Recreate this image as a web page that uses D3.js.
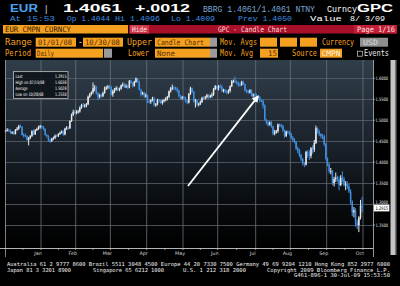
<!DOCTYPE html>
<html>
<head>
<meta charset="utf-8">
<script src="https://cdn.jsdelivr.net/npm/d3@7"></script>
<style>
html, body { margin: 0; padding: 0; background: #000; }
svg { display: block; }
text { font-family: "DejaVu Sans Mono", "Liberation Mono", monospace; }
</style>
</head>
<body>
<script>
var width = 400, height = 286;

// EUR/USD daily candles, 02 Jan 2008 - 30 Oct 2008 (CMPN), one line per month
var months = ["Jan", "Feb", "Mar", "Apr", "May", "Jun", "Jul", "Aug", "Sep", "Oct"];
var monthDays = [22, 21, 21, 22, 22, 21, 23, 21, 22, 22];
var firstOpen = 1.4720;

var closes = [
  1.4760, 1.4770, 1.4750, 1.4700, 1.4710, 1.4670, 1.4770, 1.4800, 1.4860, 1.4840, 1.4650, 1.4640, 1.4620, 1.4530, 1.4580, 1.4630, 1.4740, 1.4660, 1.4770, 1.4790, 1.4840, 1.4860,
  1.4830, 1.4790, 1.4650, 1.4620, 1.4520, 1.4500, 1.4560, 1.4580, 1.4630, 1.4620, 1.4670, 1.4700, 1.4730, 1.4660, 1.4800, 1.4820, 1.4810, 1.4980, 1.5130, 1.5200, 1.5180,
  1.5200, 1.5210, 1.5300, 1.5360, 1.5350, 1.5350, 1.5380, 1.5560, 1.5620, 1.5670, 1.5760, 1.5780, 1.5640, 1.5560, 1.5600, 1.5580, 1.5650, 1.5750, 1.5780, 1.5800, 1.5790,
  1.5620, 1.5700, 1.5730, 1.5770, 1.5730, 1.5750, 1.5830, 1.5850, 1.5800, 1.5810, 1.5780, 1.5940, 1.5900, 1.5820, 1.5920, 1.5990, 1.5920, 1.5730, 1.5620, 1.5660, 1.5580, 1.5590,
  1.5450, 1.5440, 1.5480, 1.5520, 1.5360, 1.5380, 1.5480, 1.5460, 1.5410, 1.5470, 1.5480, 1.5510, 1.5560, 1.5690, 1.5760, 1.5780, 1.5770, 1.5750, 1.5700, 1.5580, 1.5530, 1.5550,
  1.5530, 1.5460, 1.5420, 1.5630, 1.5760, 1.5680, 1.5450, 1.5480, 1.5370, 1.5390, 1.5440, 1.5530, 1.5520, 1.5550, 1.5600, 1.5550, 1.5590, 1.5610, 1.5740, 1.5810, 1.5760,
  1.5810, 1.5800, 1.5700, 1.5730, 1.5690, 1.5660, 1.5700, 1.5810, 1.5930, 1.5940, 1.5920, 1.5890, 1.5850, 1.5840, 1.5920, 1.5860, 1.5710, 1.5700, 1.5660, 1.5710, 1.5590, 1.5610, 1.5600,
  1.5560, 1.5540, 1.5470, 1.5460, 1.5350, 1.5010, 1.4950, 1.4890, 1.4950, 1.4850, 1.4680, 1.4720, 1.4740, 1.4900, 1.4890, 1.4860, 1.4760, 1.4620, 1.4730, 1.4710, 1.4680,
  1.4580, 1.4530, 1.4480, 1.4320, 1.4270, 1.4170, 1.4070, 1.3970, 1.3940, 1.4240, 1.4210, 1.4150, 1.4330, 1.4300, 1.4460, 1.4810, 1.4720, 1.4670, 1.4620, 1.4610, 1.4430, 1.4090,
  1.3950, 1.3780, 1.3790, 1.3500, 1.3600, 1.3630, 1.3580, 1.3450, 1.3630, 1.3600, 1.3450, 1.3470, 1.3420, 1.3300, 1.3050, 1.2800, 1.2850, 1.2550, 1.2500, 1.2680, 1.2960, 1.2915
];

var highs = [
  1.478, 1.481, 1.480, 1.478, 1.474, 1.474, 1.479, 1.484, 1.489, 1.490, 1.486, 1.469, 1.468, 1.464, 1.460, 1.464, 1.476, 1.478, 1.478, 1.482, 1.487, 1.489,
  1.488, 1.486, 1.481, 1.467, 1.464, 1.456, 1.458, 1.461, 1.466, 1.466, 1.469, 1.473, 1.476, 1.476, 1.482, 1.486, 1.485, 1.500, 1.516, 1.525, 1.525,
  1.524, 1.525, 1.533, 1.539, 1.541, 1.539, 1.541, 1.559, 1.565, 1.569, 1.590, 1.584, 1.582, 1.567, 1.563, 1.563, 1.568, 1.580, 1.582, 1.584, 1.584,
  1.582, 1.573, 1.577, 1.581, 1.580, 1.578, 1.585, 1.590, 1.589, 1.586, 1.584, 1.596, 1.596, 1.591, 1.594, 1.602, 1.601, 1.594, 1.575, 1.568, 1.568, 1.564,
  1.561, 1.549, 1.550, 1.556, 1.556, 1.541, 1.551, 1.551, 1.550, 1.549, 1.551, 1.555, 1.558, 1.571, 1.579, 1.585, 1.581, 1.580, 1.579, 1.573, 1.560, 1.558,
  1.558, 1.556, 1.549, 1.565, 1.580, 1.578, 1.570, 1.551, 1.550, 1.542, 1.547, 1.556, 1.557, 1.558, 1.563, 1.562, 1.561, 1.566, 1.577, 1.584, 1.583,
  1.584, 1.586, 1.584, 1.575, 1.574, 1.572, 1.574, 1.583, 1.596, 1.597, 1.604, 1.595, 1.592, 1.590, 1.594, 1.594, 1.588, 1.574, 1.572, 1.574, 1.574, 1.564, 1.565,
  1.563, 1.559, 1.558, 1.550, 1.549, 1.538, 1.503, 1.499, 1.497, 1.498, 1.487, 1.477, 1.477, 1.492, 1.492, 1.491, 1.489, 1.478, 1.475, 1.476, 1.474,
  1.470, 1.462, 1.457, 1.450, 1.437, 1.432, 1.420, 1.410, 1.400, 1.427, 1.429, 1.428, 1.436, 1.440, 1.453, 1.487, 1.483, 1.477, 1.469, 1.467, 1.465, 1.446,
  1.411, 1.398, 1.386, 1.381, 1.365, 1.375, 1.368, 1.366, 1.369, 1.378, 1.365, 1.355, 1.354, 1.348, 1.335, 1.309, 1.293, 1.290, 1.263, 1.271, 1.310, 1.317
];

var lows = [
  1.470, 1.473, 1.472, 1.468, 1.467, 1.465, 1.466, 1.475, 1.477, 1.482, 1.463, 1.459, 1.459, 1.451, 1.440, 1.455, 1.460, 1.464, 1.465, 1.474, 1.477, 1.480,
  1.480, 1.476, 1.463, 1.458, 1.449, 1.446, 1.448, 1.453, 1.455, 1.459, 1.460, 1.465, 1.468, 1.463, 1.464, 1.477, 1.477, 1.479, 1.496, 1.510, 1.515,
  1.514, 1.516, 1.518, 1.527, 1.531, 1.530, 1.531, 1.536, 1.553, 1.559, 1.563, 1.569, 1.561, 1.548, 1.552, 1.554, 1.555, 1.563, 1.572, 1.574, 1.575,
  1.559, 1.556, 1.565, 1.570, 1.570, 1.569, 1.573, 1.580, 1.577, 1.577, 1.574, 1.576, 1.587, 1.578, 1.580, 1.589, 1.590, 1.571, 1.556, 1.560, 1.553, 1.554,
  1.541, 1.540, 1.539, 1.545, 1.533, 1.532, 1.535, 1.542, 1.539, 1.537, 1.542, 1.545, 1.547, 1.553, 1.566, 1.572, 1.572, 1.571, 1.566, 1.554, 1.548, 1.549,
  1.550, 1.542, 1.538, 1.540, 1.560, 1.565, 1.542, 1.530, 1.534, 1.533, 1.536, 1.541, 1.549, 1.549, 1.552, 1.551, 1.553, 1.554, 1.558, 1.572, 1.573,
  1.571, 1.576, 1.567, 1.566, 1.565, 1.562, 1.563, 1.566, 1.579, 1.589, 1.589, 1.585, 1.580, 1.580, 1.582, 1.584, 1.568, 1.565, 1.563, 1.564, 1.557, 1.554, 1.555,
  1.553, 1.551, 1.543, 1.543, 1.528, 1.499, 1.490, 1.485, 1.487, 1.482, 1.464, 1.464, 1.468, 1.470, 1.484, 1.482, 1.472, 1.458, 1.460, 1.467, 1.464,
  1.455, 1.448, 1.445, 1.429, 1.421, 1.412, 1.402, 1.392, 1.388, 1.392, 1.410, 1.405, 1.409, 1.420, 1.424, 1.443, 1.468, 1.462, 1.457, 1.455, 1.438, 1.404,
  1.390, 1.373, 1.371, 1.345, 1.342, 1.353, 1.353, 1.333, 1.343, 1.352, 1.342, 1.333, 1.336, 1.326, 1.299, 1.271, 1.268, 1.246, 1.240, 1.233, 1.263, 1.280
];

var yTicks = [1.25, 1.30, 1.35, 1.40, 1.45, 1.50, 1.55, 1.60];
var lastPrice = 1.2915;
var statLabels = ["Last", "High on 07/15/08", "Average", "Low on 10/28/08"];
var statValues = ["1.2915", "1.6038", "1.5028", "1.2330"];
// annotation arrow, in (day index, price)
var arrowFrom = [111, 1.343];
var arrowTo = [153.4, 1.557];

var svg = d3.select("body").append("svg")
    .attr("width", width)
    .attr("height", height);

svg.append("rect").attr("width", width).attr("height", height).attr("fill", "#000");

function txt(x, y, s, size, fill, len, opts) {
    opts = opts || {};
    var t = svg.append("text")
        .attr("x", x).attr("y", y)
        .attr("font-size", size)
        .attr("fill", fill)
        .text(s);
    if (len) t.attr("textLength", len).attr("lengthAdjust", "spacingAndGlyphs");
    if (opts.bold) t.attr("font-weight", "bold");
    if (opts.anchor) t.attr("text-anchor", opts.anchor);
    if (opts.family) t.style("font-family", opts.family);
    return t;
}
function box(x, y, w, h, fill) {
    return svg.append("rect").attr("x", x).attr("y", y).attr("width", w).attr("height", h).attr("fill", fill);
}

//---- header
var sans = "'DejaVu Sans', sans-serif";
var big = "'Liberation Sans', Arial, sans-serif";
var mono2 = "'Liberation Mono', monospace";
txt(10, 12.4, "EUR", 10.4, "#4aa3f0", 28, {bold: true, family: big});
txt(45, 12.4, "|", 9.5, "#d0d0d0", null, {family: big});
txt(63, 12.4, "1.4061", 10.4, "#ffffff", 59, {bold: true, family: big});
txt(135, 12.4, "+.0012", 10.4, "#ffffff", 55, {bold: true, family: big});
txt(203, 11.7, "BBRG 1.4061/1.4061 NTNY", 8.2, "#7aa6d6", 112, {family: mono2});
txt(327, 11.7, "Curncy", 8.2, "#ffffff", 30, {family: mono2});
txt(357, 12, "GPC", 10, "#ffffff", 36, {bold: true, family: big});

var blue2 = "#3d8fe0";
txt(10, 21, "At 15:53", 7.4, blue2, 45, {family: mono2});
txt(67, 21, "Op 1.4044", 7.4, blue2, 43, {family: mono2});
txt(115, 21, "Hi 1.4096", 7.4, blue2, 45, {family: mono2});
txt(171, 21, "Lo 1.4009", 7.4, blue2, 44, {family: mono2});
txt(238, 21, "Prev 1.4050", 7.4, blue2, 54, {family: mono2});
txt(310, 21, "Value", 7.4, "#ffffff", 32, {family: mono2});
txt(350, 21, "8/ 3/09", 7.4, "#ffffff", 35, {family: mono2});

// title bar
var orange = "#f4a020";
box(3, 25, 125, 8.5, orange);
txt(5, 32.2, "EUR CMPN CURNCY", 7.5, "#3a1c00", 66);
box(129, 25, 268, 8.5, "#a80f28");
box(130, 25, 19, 8.5, "#d0384a");
txt(132, 32.2, "Hide", 7.5, "#ffe6e6", 15);
txt(218, 32.2, "GPC - Candle Chart", 7.5, "#ffd6d6", 69);
box(354, 25, 43, 8.5, "#c21f36");
txt(357, 32.2, "Page 1/16", 7.5, "#ffe0e0", 38);

// settings rows
var boxText = "#5a2c00", lbl = "#f4a020";
var r4 = 37.7, r5 = 48.7, rh = 9;
txt(5, r4 + 7.6, "Range", 8, lbl, 27);
box(35.7, r4, 40.3, rh, orange); txt(38, r4 + 7.6, "01/01/08", 7.5, boxText, 34);
txt(78, r4 + 7.6, "-", 8, "#ffffff");
box(83, r4, 40, rh, orange); txt(85, r4 + 7.6, "10/30/08", 7.5, boxText, 35);
txt(127, r4 + 7.6, "Upper", 8, lbl, 25);
box(155, r4, 55, rh, orange); txt(157, r4 + 7.6, "Candle Chart", 7.5, boxText, 47);
box(210, r4, 7, rh, "#9a9a9a");
txt(220, r4 + 7.6, "Mov. Avgs", 8, lbl, 37);
box(260, r4, 17, rh, orange); box(280, r4, 17, rh, orange); box(300, r4, 17, rh, orange);
txt(322, r4 + 7.6, "Currency", 8, lbl, 32);
box(360, r4, 28, rh, "#8f8f8f"); txt(363, r4 + 7.6, "USD", 7.5, "#dcdcdc", 15);

txt(5, r5 + 7.6, "Period", 8, lbl, 26);
box(35.7, r5, 67.3, rh, orange); txt(37, r5 + 7.6, "Daily", 7.5, boxText, 17);
box(104, r5, 8, rh, "#9a9a9a");
txt(128, r5 + 7.6, "Lower", 8, lbl, 21);
box(155, r5, 55, rh, orange); txt(157, r5 + 7.6, "None", 7.5, boxText, 18);
box(210, r5, 7, rh, "#9a9a9a");
txt(220, r5 + 7.6, "Mov. Avg", 8, lbl, 33);
box(260, r5, 18, rh, orange); txt(277, r5 + 7.6, "15", 7.5, boxText, null, {anchor: "end"});
txt(292, r5 + 7.6, "Source", 8, lbl, 25);
box(320, r5, 22, rh, orange); txt(321.5, r5 + 7.6, "CMPN", 7.5, "#fff2dc", 19);
svg.append("rect").attr("x", 357.5).attr("y", r5 + 2.5).attr("width", 5).attr("height", 5)
    .attr("fill", "none").attr("stroke", "#cfcfcf").attr("stroke-width", 0.7);
txt(364, r5 + 7.6, "Events", 8, "#e8e8e8", 25);

//---- chart
var plot = {left: 5, right: 373, top: 60, bottom: 248};
var n = closes.length;
var x = d3.scaleLinear().domain([0, n + 6]).range([4.7, 372.9]);
var y = d3.scaleLinear().domain([1.25, 1.60]).range([225, 78.3]);
var step = x(1) - x(0);

var defs = svg.append("defs");
var grad = defs.append("linearGradient").attr("id", "bg").attr("x1", 0).attr("y1", 0).attr("x2", 0).attr("y2", 1);
grad.append("stop").attr("offset", "0%").attr("stop-color", "#303e4a");
grad.append("stop").attr("offset", "45%").attr("stop-color", "#1a222b");
grad.append("stop").attr("offset", "80%").attr("stop-color", "#07090c");
grad.append("stop").attr("offset", "100%").attr("stop-color", "#000000");

svg.append("rect")
    .attr("x", plot.left).attr("y", plot.top)
    .attr("width", plot.right - plot.left).attr("height", plot.bottom - plot.top)
    .attr("fill", "url(#bg)");

// horizontal grid
svg.append("g").selectAll("line").data(yTicks).join("line")
    .attr("x1", plot.left).attr("x2", plot.right)
    .attr("y1", d => Math.round(y(d)) + 0.5).attr("y2", d => Math.round(y(d)) + 0.5)
    .attr("stroke", "#59616a").attr("stroke-width", 0.8);

// vertical grid at month ends
var monthEnds = Array.from(d3.cumsum(monthDays));
var monthStarts = [0].concat(monthEnds.slice(0, -1));
svg.append("g").selectAll("line").data(monthEnds).join("line")
    .attr("x1", d => x(d)).attr("x2", d => x(d))
    .attr("y1", plot.top).attr("y2", plot.bottom)
    .attr("stroke", "#6a7178").attr("stroke-width", 0.8);

// candles
var candles = closes.map(function(c, i) {
    return {i: i, open: i ? closes[i - 1] : firstOpen, close: c, high: highs[i], low: lows[i]};
});
var upCol = "#e8eaec", downCol = "#3f90e4";
var cg = svg.append("g");
cg.selectAll("line").data(candles).join("line")
    .attr("x1", d => x(d.i + 0.5)).attr("x2", d => x(d.i + 0.5))
    .attr("y1", d => y(Math.max(d.high, d.open, d.close)))
    .attr("y2", d => y(Math.min(d.low, d.open, d.close)))
    .attr("stroke", d => d.close >= d.open ? upCol : downCol)
    .attr("stroke-width", 1);
cg.selectAll("rect").data(candles).join("rect")
    .attr("x", d => x(d.i + 0.5) - step * 0.45)
    .attr("width", step * 0.9)
    .attr("y", d => y(Math.max(d.open, d.close)))
    .attr("height", d => Math.max(1, Math.abs(y(d.open) - y(d.close))))
    .attr("fill", d => d.close >= d.open ? upCol : downCol);

// frame
svg.append("line").attr("x1", plot.left + 0.5).attr("x2", plot.left + 0.5)
    .attr("y1", plot.top).attr("y2", 257).attr("stroke", "#9aa0a6").attr("stroke-width", 0.8);
svg.append("line").attr("x1", plot.right + 0.5).attr("x2", plot.right + 0.5)
    .attr("y1", plot.top).attr("y2", 257).attr("stroke", "#b8bcc0").attr("stroke-width", 0.8);
svg.append("line").attr("x1", 0).attr("x2", plot.right)
    .attr("y1", plot.bottom + 0.5).attr("y2", plot.bottom + 0.5)
    .attr("stroke", "#c8c8c8").attr("stroke-width", 0.9);

// x-axis ticks and month labels
svg.append("g").selectAll("line").data(monthEnds.map((e, k) => (e + monthStarts[k]) / 2).concat(monthEnds)).join("line")
    .attr("x1", d => x(d)).attr("x2", d => x(d))
    .attr("y1", plot.bottom).attr("y2", plot.bottom + 2)
    .attr("stroke", "#c8c8c8").attr("stroke-width", 0.7);
svg.append("g").selectAll("text").data(months).join("text")
    .attr("x", (d, k) => x(monthEnds[k]) - 3)
    .attr("y", 254.5)
    .attr("text-anchor", "middle")
    .attr("font-size", 4.8)
    .attr("fill", "#d8d8d8")
    .style("font-family", "'DejaVu Sans', sans-serif")
    .text(d => d);

// right axis (the last-price flag covers part of the 1.3000 label, as on the terminal)
svg.append("g").selectAll("line").data(yTicks).join("line")
    .attr("x1", plot.right).attr("x2", plot.right + 2)
    .attr("y1", d => y(d)).attr("y2", d => y(d))
    .attr("stroke", "#c8c8c8").attr("stroke-width", 0.7);
svg.append("g").selectAll("text").data(yTicks).join("text")
    .attr("x", 375.5).attr("y", d => y(d) + 1.8 - (Math.abs(d - lastPrice) < 0.02 ? 2.2 : 0))
    .attr("font-size", 4.6).attr("fill", "#e6e6e6")
    .attr("textLength", 12.5).attr("lengthAdjust", "spacingAndGlyphs")
    .style("font-family", "'DejaVu Sans', sans-serif")
    .text(d3.format(".4f"));
box(373.8, y(lastPrice) - 3.2, 15.5, 7, "#ffffff").attr("stroke", "#666").attr("stroke-width", 0.4);
txt(375.5, y(lastPrice) + 2, d3.format(".4f")(lastPrice), 4.8, "#000000", 12.5, {family: "'DejaVu Sans', sans-serif"});

// scrollbar
box(390.5, 60, 4.5, 195, "#c4c4c4");
box(395, 60, 1.5, 195, "#777");

// stats box
svg.append("rect").attr("x", 13.5).attr("y", 71.7).attr("width", 54.5).attr("height", 26.6)
    .attr("fill", "#0d1218").attr("fill-opacity", 0.85)
    .attr("stroke", "#d8d8d8").attr("stroke-width", 0.7);
var statLen = [7, 29, 12, 28];
statLabels.forEach(function(s, k) {
    var by = 77.6 + k * 6.2;
    txt(15.5, by, s, 4.6, "#ffffff", statLen[k], {family: "'DejaVu Sans', sans-serif"});
    txt(66.5, by, statValues[k], 4.6, "#ffffff", 11.5, {anchor: "end", family: "'DejaVu Sans', sans-serif"});
});

// arrow annotation
defs.append("marker").attr("id", "head")
    .attr("viewBox", "0 0 10 10").attr("refX", 8).attr("refY", 5)
    .attr("markerWidth", 4).attr("markerHeight", 4).attr("orient", "auto")
    .append("path").attr("d", "M0,0L10,5L0,10z").attr("fill", "#ffffff");
svg.append("line")
    .attr("x1", x(arrowFrom[0])).attr("y1", y(arrowFrom[1]))
    .attr("x2", x(arrowTo[0])).attr("y2", y(arrowTo[1]))
    .attr("stroke", "#ffffff").attr("stroke-width", 1.8)
    .attr("marker-end", "url(#head)");

//---- footer
var foot = "#f0f0f0";
txt(7, 265.6, "Australia 61 2 9777 8600 Brazil 5511 3048 4500 Europe 44 20 7330 7500 Germany 49 69 9204 1210 Hong Kong 852 2977 6000", 5.4, foot, 383);
txt(7, 272, "Japan 81 3 3201 8900", 5.4, foot, 64);
txt(93, 272, "Singapore 65 6212 1000", 5.4, foot, 71);
txt(183, 272, "U.S. 1 212 318 2000", 5.4, foot, 63);
txt(267, 272, "Copyright 2009 Bloomberg Finance L.P.", 5.4, foot, 123);
txt(390, 277.2, "G461-896-1 30-Jul-09 15:53:50", 5.4, foot, 96, {anchor: "end"});
</script>
</body>
</html>
